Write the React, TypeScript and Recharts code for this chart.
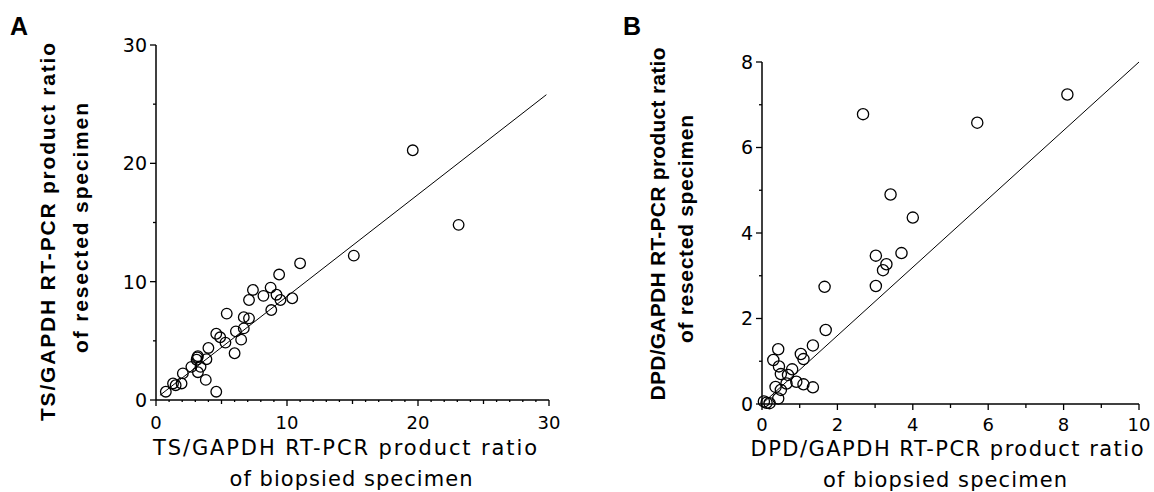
import React from "react";
import { ScatterChart, Scatter, XAxis, YAxis, ReferenceLine, Label } from "recharts";

// Panel A: TS/GAPDH ratio, biopsied (x) vs resected (y)
const tsBiopsied = [19.6, 23.1, 15.1, 11.0, 9.4, 7.4, 8.75, 8.2, 9.2, 9.5, 10.4, 7.1, 8.8, 5.4, 6.7, 7.1, 6.7, 6.1, 6.5, 6.0, 4.6, 4.9, 5.3, 4.0, 3.85, 3.15, 3.1, 3.4, 2.7, 3.2, 3.8, 2.05, 1.95, 1.3, 1.5, 4.6, 0.75, 3.2];
const tsResected = [21.1, 14.8, 12.2, 11.55, 10.6, 9.3, 9.5, 8.8, 8.9, 8.45, 8.6, 8.45, 7.6, 7.3, 7.0, 6.9, 6.05, 5.8, 5.1, 3.95, 5.6, 5.3, 4.85, 4.4, 3.45, 3.6, 3.4, 2.8, 2.8, 2.35, 1.7, 2.25, 1.4, 1.4, 1.25, 0.7, 0.7, 3.7];
const tsFitX = [0.3, 29.8];
const tsFitY = [0.4, 25.8];
const tsTicksX = [0, 1, 2, 3, 4, 5, 6, 7, 8, 9, 10, 11, 12, 13, 14, 15, 16, 17, 18, 19, 20, 21, 22, 23, 24, 25, 26, 27, 28, 29, 30];
const tsTicksY = [0, 5, 10, 15, 20, 25, 30];

// Panel B: DPD/GAPDH ratio
const dpdBiopsied = [8.1, 2.68, 5.71, 3.41, 4.0, 3.02, 3.7, 3.3, 3.21, 3.02, 1.66, 1.69, 1.35, 1.03, 1.1, 0.43, 0.3, 0.45, 0.5, 0.8, 0.69, 0.91, 1.1, 1.35, 0.65, 0.5, 0.36, 0.43, 0.12, 0.05, 0.2];
const dpdResected = [7.24, 6.78, 6.58, 4.9, 4.36, 3.47, 3.53, 3.27, 3.13, 2.76, 2.74, 1.73, 1.37, 1.17, 1.05, 1.28, 1.03, 0.88, 0.7, 0.81, 0.68, 0.52, 0.46, 0.39, 0.48, 0.33, 0.4, 0.13, 0.03, 0.06, 0.02];
const dpdFitX = [0.05, 10];
const dpdFitY = [0.04, 8];
const dpdTicksX = [0, 1, 2, 3, 4, 5, 6, 7, 8, 9, 10];
const dpdTicksY = [0, 1, 2, 3, 4, 5, 6, 7, 8];

const tsData = tsBiopsied.map((x, i) => ({ x, y: tsResected[i] }));
const dpdData = dpdBiopsied.map((x, i) => ({ x, y: dpdResected[i] }));

const tickFont = "'DejaVu Sans', sans-serif";
const boldFont = "'Liberation Sans', Arial, sans-serif";

const openCircle = (r: number) => (props: any) =>
  <circle cx={props.cx} cy={props.cy} r={r} fill="none" stroke="#000" strokeWidth={1.3} />;

const xTick = (major: number, minor: number, labelDy: number) => (props: any) => {
  const { x, y, payload } = props;
  const v = payload.value;
  const isMajor = v % major === 0;
  const len = isMajor ? 6 : v % minor === 0 ? 4 : 2;
  return (
    <g>
      <line x1={x} y1={y} x2={x} y2={y + len} stroke="#000" strokeWidth={1.3} />
      {isMajor && (
        <text x={x} y={y + labelDy} textAnchor="middle" fontFamily={tickFont} fontSize={18} fill="#000">{v}</text>
      )}
    </g>
  );
};

const yTick = (major: number) => (props: any) => {
  const { x, y, payload } = props;
  const v = payload.value;
  const isMajor = v % major === 0;
  const len = isMajor ? 6 : 3;
  return (
    <g>
      <line x1={x - len} y1={y} x2={x} y2={y} stroke="#000" strokeWidth={1.3} />
      {isMajor && (
        <text x={x - 9} y={y} dy="0.36em" textAnchor="end" fontFamily={tickFont} fontSize={19} fill="#000">{v}</text>
      )}
    </g>
  );
};

const xTitle = (line1: string, line2: string, c1: number, c2: number, w1: number, w2: number, b1: number, b2: number) => () => (
  <g fontFamily={tickFont} fontSize={21} fill="#000">
    <text x={c1} y={b1} textAnchor="middle" textLength={w1} lengthAdjust="spacing">{line1}</text>
    <text x={c2} y={b2} textAnchor="middle" textLength={w2} lengthAdjust="spacing">{line2}</text>
  </g>
);

const yTitle = (letter: string, lx: number, line1: string, line2: string, b1: number, b2: number, m1: number, m2: number, w1: number, w2: number) => () => (
  <g fontFamily={boldFont} fontWeight="bold" fill="#000">
    <text x={lx} y={35} fontSize={25}>{letter}</text>
    <text x={b1} y={m1} fontSize={21} textAnchor="middle" transform={`rotate(-90 ${b1} ${m1})`} textLength={w1} lengthAdjust="spacing">{line1}</text>
    <text x={b2} y={m2} fontSize={21} textAnchor="middle" transform={`rotate(-90 ${b2} ${m2})`} textLength={w2} lengthAdjust="spacing">{line2}</text>
  </g>
);

export default function App() {
  return (
    <div style={{ position: "absolute", left: 0, top: 0, width: 1154, height: 492, background: "#fff" }}>
      <div style={{ position: "absolute", left: 0, top: 0 }}>
        <ScatterChart width={600} height={492} margin={{ top: 45, right: 51, bottom: 0, left: 0 }}>
          <XAxis type="number" dataKey="x" domain={[0, 30]} ticks={tsTicksX} interval={0} height={92}
            tickSize={0} tickMargin={0} tickLine={false} tick={xTick(10, 5, 29)} stroke="#000" strokeWidth={1.5}>
            <Label content={xTitle("TS/GAPDH RT-PCR product ratio", "of biopsied specimen", 345, 351, 384, 243, 455, 486)} />
          </XAxis>
          <YAxis type="number" dataKey="y" domain={[0, 30]} ticks={tsTicksY} interval={0} width={156}
            tickSize={0} tickMargin={0} tickLine={false} tick={yTick(10)} stroke="#000" strokeWidth={1.5}>
            <Label content={yTitle("A", 10, "TS/GAPDH RT-PCR product ratio", "of resected specimen", 55, 88, 232, 228, 378, 250)} />
          </YAxis>
          <ReferenceLine segment={[{ x: tsFitX[0], y: tsFitY[0] }, { x: tsFitX[1], y: tsFitY[1] }]} stroke="#000" strokeWidth={1} />
          <Scatter data={tsData} shape={openCircle(5.3)} isAnimationActive={false} />
        </ScatterChart>
      </div>
      <div style={{ position: "absolute", left: 600, top: 0 }}>
        <ScatterChart width={554} height={492} margin={{ top: 62, right: 15, bottom: 0, left: 0 }}>
          <XAxis type="number" dataKey="x" domain={[0, 10]} ticks={dpdTicksX} interval={0} height={88}
            tickSize={0} tickMargin={0} tickLine={false} tick={xTick(2, 1, 27)} stroke="#000" strokeWidth={1.5}>
            <Label content={xTitle("DPD/GAPDH RT-PCR product ratio", "of biopsied specimen", 347, 345, 393, 244, 456, 487)} />
          </XAxis>
          <YAxis type="number" dataKey="y" domain={[0, 8]} ticks={dpdTicksY} interval={0} width={162}
            tickSize={0} tickMargin={0} tickLine={false} tick={yTick(2)} stroke="#000" strokeWidth={1.5}>
            <Label content={yTitle("B", 23, "DPD/GAPDH RT-PCR product ratio", "of resected specimen", 65, 93, 224, 229, 353, 228)} />
          </YAxis>
          <ReferenceLine segment={[{ x: dpdFitX[0], y: dpdFitY[0] }, { x: dpdFitX[1], y: dpdFitY[1] }]} stroke="#000" strokeWidth={1} />
          <Scatter data={dpdData} shape={openCircle(5.6)} isAnimationActive={false} />
        </ScatterChart>
      </div>
    </div>
  );
}
